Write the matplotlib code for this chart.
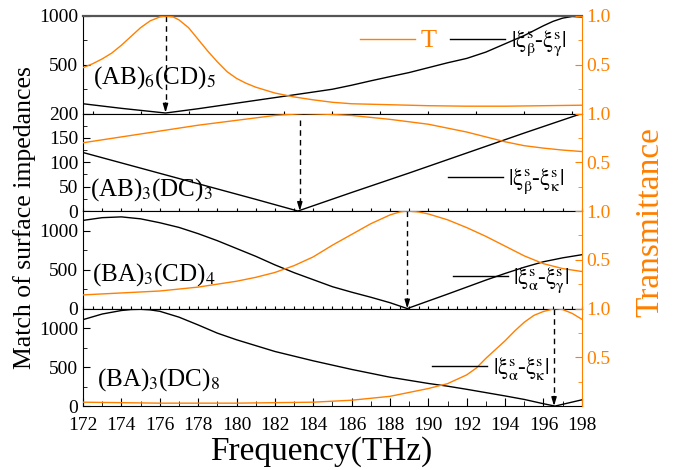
import numpy as np
import matplotlib
matplotlib.use("Agg")
import matplotlib.pyplot as plt
from matplotlib.ticker import MultipleLocator, FixedLocator, NullFormatter, FixedFormatter

plt.rcParams['font.family'] = ['Liberation Serif', 'DejaVu Serif']
plt.rcParams['mathtext.fontset'] = 'stix'

ORANGE = '#ff8000'

# ---- data ----
# panel 1: (AB)6(CD)5
f_z1 = [172, 174, 176.3, 178, 180, 182, 184, 185, 186, 187, 188, 189, 190, 191, 192, 193, 194, 195, 196, 196.5, 197, 197.5, 198]
z1 = [100, 53, 5, 49, 106, 163, 220, 249, 290, 335, 378, 420, 470, 520, 565, 630, 715, 800, 900, 945, 978, 995, 990]
f_t1 = [172, 172.5, 173, 173.5, 174, 174.5, 175, 175.5, 176, 176.3, 176.7, 177, 177.5, 178, 178.5, 179, 179.5, 180, 180.5, 181, 182, 183, 184, 185, 186, 188, 190, 192, 194, 196, 198]
t1 = [0.47, 0.51, 0.56, 0.62, 0.70, 0.79, 0.88, 0.95, 0.99, 1.0, 0.99, 0.96, 0.88, 0.76, 0.64, 0.53, 0.43, 0.36, 0.31, 0.27, 0.21, 0.17, 0.14, 0.115, 0.10, 0.09, 0.08, 0.075, 0.075, 0.08, 0.085]

# panel 2: (AB)3(DC)3
f_z2 = [172, 175, 178, 181, 183.2, 186, 189, 192, 195, 198]
z2 = [120, 88, 56, 24, 0, 38, 78, 119, 160, 200]
f_t2 = [172, 174, 176, 178, 180, 182, 183.5, 185, 186, 188, 190, 192, 193, 194, 195, 196, 197, 198]
t2 = [0.70, 0.76, 0.82, 0.88, 0.93, 0.98, 1.0, 0.99, 0.98, 0.94, 0.89, 0.81, 0.76, 0.71, 0.67, 0.645, 0.625, 0.61]

# panel 3: (BA)3(CD)4
f_z3 = [172, 173, 174, 175, 176, 177, 178, 179, 180, 181, 182, 183, 184, 185, 186, 187, 188, 188.9, 190, 191, 192, 193, 194, 195, 196, 197, 198]
z3 = [1130, 1165, 1175, 1150, 1100, 1040, 960, 870, 770, 670, 560, 460, 370, 280, 210, 145, 75, 0, 97, 185, 275, 365, 450, 530, 600, 650, 690]
f_t3 = [172, 174, 176, 178, 180, 181, 182, 183, 184, 185, 186, 187, 188, 188.5, 188.9, 189.5, 190, 191, 192, 193, 194, 195, 196, 197, 198]
t3 = [0.14, 0.16, 0.18, 0.22, 0.28, 0.32, 0.37, 0.44, 0.53, 0.65, 0.76, 0.87, 0.96, 0.99, 1.0, 0.99, 0.97, 0.91, 0.83, 0.74, 0.64, 0.54, 0.46, 0.41, 0.38]

# panel 4: (BA)3(DC)8
f_z4 = [172, 173, 174, 174.5, 175, 175.5, 176, 177, 178, 179, 180, 182, 184, 186, 188, 190, 191, 192, 194, 195, 196, 196.6, 198]
z4 = [1108, 1180, 1225, 1237, 1240, 1233, 1215, 1140, 1040, 935, 850, 700, 580, 470, 370, 290, 255, 215, 130, 85, 30, 0, 80]
f_t4 = [172, 174, 176, 178, 180, 182, 184, 185, 186, 187, 188, 189, 190, 191, 192, 192.5, 193, 193.5, 194, 194.5, 195, 195.5, 196, 196.6, 197, 197.5, 198]
t4 = [0.04, 0.035, 0.03, 0.03, 0.03, 0.035, 0.04, 0.05, 0.06, 0.08, 0.10, 0.14, 0.18, 0.23, 0.32, 0.39, 0.49, 0.58, 0.67, 0.77, 0.86, 0.93, 0.97, 1.0, 0.99, 0.95, 0.89]

names = [r'(AB)$_6$(CD)$_5$', r'(AB)$_3$(DC)$_3$', r'(BA)$_3$(CD)$_4$', r'(BA)$_3$(DC)$_8$']
diff_labels = [r'$|\mathrm{\xi}_{\mathrm{\beta}}^{\mathrm{s}}$-$\mathrm{\xi}_{\mathrm{\gamma}}^{\mathrm{s}}|$',
               r'$|\mathrm{\xi}_{\mathrm{\beta}}^{\mathrm{s}}$-$\mathrm{\xi}_{\mathrm{\kappa}}^{\mathrm{s}}|$',
               r'$|\mathrm{\xi}_{\mathrm{\alpha}}^{\mathrm{s}}$-$\mathrm{\xi}_{\mathrm{\gamma}}^{\mathrm{s}}|$',
               r'$|\mathrm{\xi}_{\mathrm{\alpha}}^{\mathrm{s}}$-$\mathrm{\xi}_{\mathrm{\kappa}}^{\mathrm{s}}|$']
ylims = [1000, 200, 1250, 1250]
left_ticks = [[500, 1000], [0, 50, 100, 150, 200], [0, 500, 1000], [0, 500, 1000]]
left_minor = [250, 25, 250, 250]
match_f = [176.3, 183.3, 188.9, 196.55]
arrow_top = [1000, 186, 1250, 1250]
arrow_tip = [8, 0, 0, 0]
xtick_step = [2.5, 1, 0.5, None]

# layout of texts (axes fraction)
name_pos = [(0.02, 0.306), (0.014, 0.155), (0.018, 0.286), (0.028, 0.206)]
leg_pos = [(0.555, 0.72), (0.731, 0.31), (0.741, 0.29), (0.70, 0.39)]

zs = [(f_z1, z1), (f_z2, z2), (f_z3, z3), (f_z4, z4)]
ts = [(f_t1, t1), (f_t2, t2), (f_t3, t3), (f_t4, t4)]

fig, axes = plt.subplots(4, 1, figsize=(6.75, 4.7), dpi=100, gridspec_kw=dict(hspace=0))
fig.subplots_adjust(left=0.123, right=0.862, bottom=0.136, top=0.966)

for i, ax in enumerate(axes):
    tw = ax.twinx()
    fz, zv = zs[i]
    ft, tv = ts[i]
    lz, = ax.plot(fz, zv, color='k', lw=1.0, label=diff_labels[i])
    lt, = tw.plot(ft, tv, color=ORANGE, lw=1.0, label='T')

    ax.set_xlim(172, 198)
    ax.set_ylim(0, ylims[i])
    tw.set_ylim(0, 1)

    ax.yaxis.set_major_locator(FixedLocator(left_ticks[i]))
    ax.yaxis.set_minor_locator(MultipleLocator(left_minor[i]))
    ax.tick_params(axis='y', which='both', direction='in', labelsize=14, right=False)
    ax.tick_params(axis='y', which='major', length=5)
    ax.tick_params(axis='y', which='minor', length=3)

    tw.yaxis.set_major_locator(FixedLocator([0.5, 1.0]))
    tw.yaxis.set_major_formatter(FixedFormatter(['0.5', '1.0']))
    tw.yaxis.set_minor_locator(FixedLocator([0.25, 0.75]))
    tw.tick_params(axis='y', which='both', direction='in', labelsize=14, colors=ORANGE)
    tw.tick_params(axis='y', which='major', length=5)
    tw.tick_params(axis='y', which='minor', length=3)
    tw.spines['right'].set_color(ORANGE)
    for s in ['left', 'top', 'bottom']:
        tw.spines[s].set_visible(False)
    ax.spines['right'].set_visible(False)

    if i < 3:
        ax.xaxis.set_major_locator(MultipleLocator(xtick_step[i]))
        ax.xaxis.set_minor_locator(MultipleLocator(xtick_step[i]))
        ax.xaxis.set_major_formatter(NullFormatter())
        ax.tick_params(axis='x', which='both', direction='in', length=2.5)
    else:
        ax.xaxis.set_major_locator(MultipleLocator(2))
        ax.xaxis.set_minor_locator(MultipleLocator(1))
        ax.tick_params(axis='x', which='both', direction='in', labelsize=14, pad=8)
        ax.tick_params(axis='x', which='major', length=6)
        ax.tick_params(axis='x', which='minor', length=3.5)
    if i == 0:
        ax.spines['top'].set_linewidth(1.6)
        ax.spines['top'].set_color('#555555')

    # dashed arrow down to the matching point
    ax.plot([match_f[i], match_f[i]], [arrow_top[i], arrow_tip[i] + ylims[i] * 0.08],
            color='k', lw=1.0, ls=(0, (4, 3)))
    ax.annotate('', xy=(match_f[i], arrow_tip[i]), xytext=(match_f[i], arrow_tip[i] + ylims[i] * 0.1),
                arrowprops=dict(arrowstyle='-|>,head_length=0.5,head_width=0.15', color='k', lw=1.0,
                                shrinkA=0, shrinkB=0))

    ax.text(name_pos[i][0], name_pos[i][1], names[i], transform=ax.transAxes,
            fontsize=18, va='baseline', ha='left')

    handles = [lt, lz] if i == 0 else [lz]
    leg = tw.legend(handles=handles, loc='center left', bbox_to_anchor=leg_pos[i],
                    frameon=False, ncol=2, fontsize=16.5, handlelength=2.4, handletextpad=0.25,
                    columnspacing=0.6, borderpad=0, borderaxespad=0)
    if i == 0:
        leg.get_texts()[0].set_color(ORANGE)
        leg.get_texts()[0].set_fontsize(19)

fig.text(321 / 675, 1 - 452 / 470, 'Frequency(THz)', fontsize=24, ha='center', va='center')
fig.text(25 / 675, 1 - 218 / 470, 'Match of surface impedances', fontsize=18.5, rotation=90,
         ha='center', va='center')
fig.text(650 / 675, 1 - 222 / 470, 'Transmittance', fontsize=24, rotation=90, color=ORANGE,
         ha='center', va='center')

fig.savefig('out.png', dpi=100)
